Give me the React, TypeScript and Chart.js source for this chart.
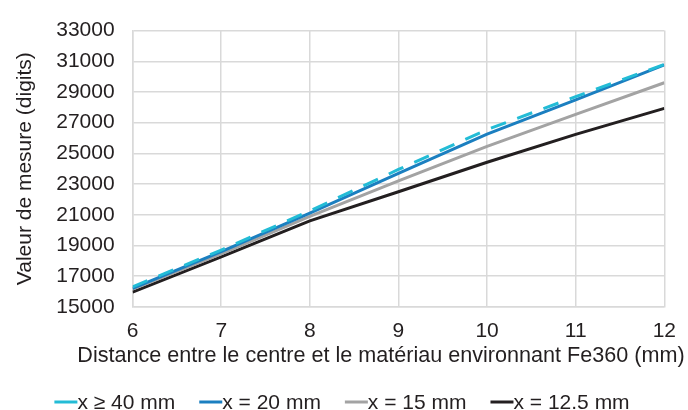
import React, { useEffect, useRef } from "react";
import { Chart, registerables } from "chart.js";

Chart.register(...registerables);

const xValues = [6, 7, 8, 9, 10, 11, 12];
const seriesLabels = ["x ≥ 40 mm", "x = 20 mm", "x = 15 mm", "x = 12.5 mm"];
const s40 = [16300, 18700, 21250, 23950, 26550, 28700, 30800];
const s20 = [16200, 18600, 21100, 23700, 26250, 28480, 30770];
const s15 = [16150, 18450, 20900, 23200, 25450, 27540, 29600];
const s125 = [15950, 18250, 20600, 22500, 24420, 26240, 27930];
const yTicks = [15000, 17000, 19000, 21000, 23000, 25000, 27000, 29000, 31000, 33000];
const xTitle = "Distance entre le centre et le matériau environnant Fe360 (mm)";
const yTitle = "Valeur de mesure (digits)";

const colors = ["#23bcd6", "#1b7fc0", "#a3a3a3", "#231f20"];
const FONT = "'Liberation Sans', Arial, sans-serif";
const FS = 21;

const legendPlugin = {
  id: "customLegend",
  afterDraw(chart: any) {
    const ctx = chart.ctx;
    ctx.save();
    ctx.textBaseline = "middle";
    ctx.fillStyle = "#231f20";
    // x axis title (drawn without width compression)
    ctx.font = `21.6px ${FONT}`;
    ctx.textAlign = "center";
    ctx.fillText(xTitle, 381, 356);
    ctx.font = `${FS}px ${FONT}`;
    const lineW = 23;
    const gap = 24;
    const items = chart.data.datasets.map((d: any) => ({
      label: d.label,
      color: d.borderColor,
      w: lineW + ctx.measureText(d.label).width,
    }));
    const total = items.reduce((a: number, b: any) => a + b.w, 0) + gap * (items.length - 1);
    let x = chart.width / 2 - total / 2 - 2;
    const y = 402;
    items.forEach((it: any) => {
      ctx.strokeStyle = it.color;
      ctx.lineWidth = 3;
      ctx.beginPath();
      ctx.moveTo(x, y);
      ctx.lineTo(x + lineW, y);
      ctx.stroke();
      ctx.fillStyle = "#231f20";
      ctx.textAlign = "left";
      ctx.fillText(it.label, x + lineW, y + 1);
      x += it.w + gap;
    });
    ctx.restore();
  },
};

export default function App() {
  const ref = useRef<HTMLCanvasElement>(null);
  useEffect(() => {
    if (!ref.current) return;
    const series = [s40, s20, s15, s125];
    const chart = new Chart(ref.current, {
      type: "line",
      data: {
        datasets: series.map((s, i) => ({
          label: seriesLabels[i],
          data: xValues.map((x, j) => ({ x, y: s[j] })),
          borderColor: colors[i],
          backgroundColor: colors[i],
          borderWidth: 3,
          borderDash: i === 0 ? [16, 12] : [],
          pointRadius: 0,
          tension: 0,
        })),
      },
      options: {
        responsive: false,
        animation: false,
        layout: { padding: { left: 13, right: 15, top: 9, bottom: 54 } },
        plugins: { legend: { display: false }, tooltip: { enabled: false } },
        scales: {
          x: {
            type: "linear",
            min: 6,
            max: 12,
            ticks: { stepSize: 1, color: "#231f20", font: { family: FONT, size: FS }, padding: 12, callback: (v: any) => String(v) },
            grid: { color: "#d9d9d9", lineWidth: 1.5, drawTicks: false },
            border: { color: "#d9d9d9", width: 1.5 },
            title: { display: false },
          },
          y: {
            min: 15000,
            max: 33000,
            afterBuildTicks: (axis: any) => {
              axis.ticks = yTicks.map((v) => ({ value: v }));
            },
            ticks: { color: "#231f20", font: { family: FONT, size: FS }, padding: 18, callback: (v: any) => String(v) },
            grid: { color: "#d9d9d9", lineWidth: 1.5, drawTicks: false },
            border: { color: "#d9d9d9", width: 1.5 },
            title: { display: true, text: yTitle, color: "#231f20", font: { family: FONT, size: FS }, padding: { top: 0, bottom: 0 } },
          },
        },
      },
      plugins: [legendPlugin],
    });
    return () => chart.destroy();
  }, []);
  return (
    <div style={{ position: "fixed", left: 0, top: 0, width: 688, height: 410, background: "#fff" }}>
      <canvas ref={ref} width={688} height={410} style={{ width: 688, height: 410 }} />
    </div>
  );
}
